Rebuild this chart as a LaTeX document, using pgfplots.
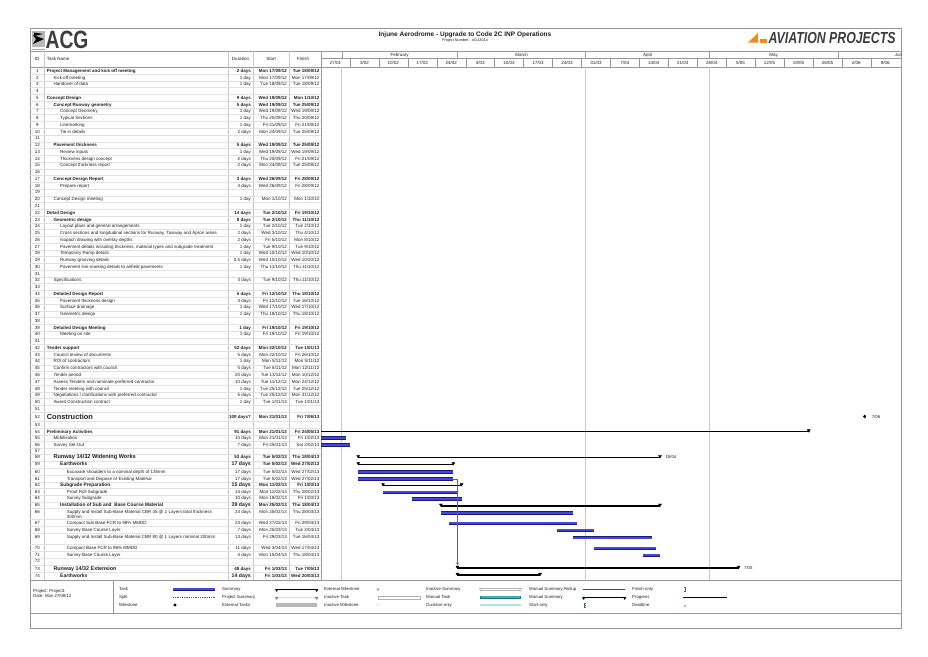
\documentclass[border=0pt]{standalone}
\usepackage{pgfplots}
\pgfplotsset{compat=1.18}
\usepackage{fontspec}
\setmainfont{Liberation Sans}

\definecolor{taskfill}{RGB}{70,70,225}
\definecolor{taskedge}{RGB}{25,25,120}
\definecolor{txt}{RGB}{30,30,30}
\definecolor{framec}{RGB}{150,150,150}
\definecolor{rowline}{RGB}{225,225,225}
\definecolor{colline}{RGB}{200,200,200}
\definecolor{gridv}{RGB}{200,200,212}
\definecolor{linkblue}{RGB}{90,90,200}
\definecolor{apo}{RGB}{242,140,28}
\definecolor{logoc}{RGB}{60,60,60}
\definecolor{tealA}{RGB}{30,120,130}
\definecolor{tealB}{RGB}{60,175,185}

\newcommand\fs{\fontsize{4.5}{5.2}\selectfont}
\def\La{46.7}\def\Lb{53.3}\def\Lc{60}\def\Ld{66.7}
\tikzset{cell/.style={inner sep=0pt, text=txt, font=\fs, yshift=-1.6pt},
  leg/.style={inner sep=0pt, text=txt, font=\fontsize{4.3}{5}\selectfont, yshift=-1.5pt, anchor=base west}}
% table rows: y, id, indent, name, duration, start, finish
\newcommand\R[7]{%
  \node[cell,anchor=base] at (37.5,#1) {#2};
  \node[cell,anchor=base west] at (#3,#1) {#4};
  \node[cell,anchor=base east] at (251,#1) {#5};
  \node[cell,anchor=base east] at (287,#1) {#6};
  \node[cell,anchor=base east] at (319.5,#1) {#7};}
\newcommand\B[7]{%
  \node[cell,anchor=base] at (37.5,#1) {#2};
  \node[cell,anchor=base west,font=\fs\bfseries] at (#3,#1) {#4};
  \node[cell,anchor=base east,font=\fs\bfseries] at (251,#1) {#5};
  \node[cell,anchor=base east,font=\fs\bfseries] at (287,#1) {#6};
  \node[cell,anchor=base east,font=\fs\bfseries] at (319.5,#1) {#7};}
% larger summary rows: y, id, indent, name size, name, duration size, duration, start, finish
\newcommand\X[9]{%
  \node[cell,anchor=base] at (37.5,#1) {#2};
  \node[cell,anchor=base west,font=\fontsize{#4}{#4}\selectfont\bfseries] at (#3,#1) {#5};
  \node[cell,anchor=base east,font=\fontsize{#6}{#6}\selectfont\bfseries] at (251,#1) {#7};
  \node[cell,anchor=base east,font=\fs\bfseries] at (287,#1) {#8};
  \node[cell,anchor=base east,font=\fs\bfseries] at (319.5,#1) {#9};}
\newcommand\E[2]{\node[cell,anchor=base] at (37.5,#1) {#2};}

% gantt bars: start day, end day, row y
\newcommand\task[3]{%
  \addplot[taskedge, line width=3.6pt, forget plot] coordinates {(#1,#3) (#2,#3)};
  \addplot[taskfill, line width=2.2pt, forget plot] coordinates {(#1,#3) (#2,#3)};}
\newcommand\summ[3]{%
  \addplot[black, line width=1.5pt, forget plot] coordinates {(#1,#3) (#2,#3)};
  \addplot[black, only marks, mark=triangle*, mark size=1.7pt,
    mark options={rotate=180, yshift=-1pt}, forget plot] coordinates {(#1,#3) (#2,#3)};}

\begin{document}
\begin{tikzpicture}
\begin{scope}[x=1pt, y=-1pt]
% outer frame and header
\draw[framec, line width=0.5pt] (30,28) rectangle (901,628);
\draw[framec, line width=0.4pt] (30,51) -- (901,51);
\draw[framec, line width=0.4pt] (30,66.7) -- (901,66.7);
\draw[framec, line width=0.4pt] (321,58.5) -- (901,58.5);
\draw[framec, line width=0.4pt] (30,580) -- (901,580);
\draw[framec, line width=0.4pt] (30,613) -- (901,613);
\draw[framec, line width=0.4pt] (113,580) -- (113,613);
% table column lines
\foreach \cx in {44,228,253.5,289.5} \draw[colline, line width=0.3pt] (\cx,51) -- (\cx,580);
\draw[framec, line width=0.4pt] (321,51) -- (321,580);
% row separators
\foreach \ry in {74.08,80.84,87.6,94.36,101.12,107.88,114.64,121.4,128.16,134.92,141.68,148.44,155.2,161.96,168.72,175.48,182.24,189,195.76,202.52,209.28,216.04,222.8,229.56,236.32,243.08,249.84,256.6,263.36,270.12,276.88,283.64,290.4,297.16,303.92,310.68,317.44,324.2,330.96,337.72,344.48,351.24,358,364.76,371.52,378.28,385.04,391.8,398.56,405.32,412.08,421,428,435,441.5,448,454,461,468,475,482,488.5,495,502,508.5,519,526.5,533,544,551.5,558,565,572}
  \draw[rowline, line width=0.3pt] (30,\ry) -- (321,\ry);

% logos and title
\fill[gray!55] (32,31) rectangle (45,47);
\fill[black] (33,35) -- (44,39) -- (33,44) -- (36,39) -- cycle;
\fill[black] (34,32.5) -- (43,34) -- (34,36) -- cycle;
\fill[gray!70] (32,48.5) rectangle (45,50);
\node[inner sep=0pt, anchor=base west, text=logoc] at (45.5,48.3) {\scalebox{0.77}[1]{\fontsize{25}{25}\selectfont\bfseries ACG}};
\fill[apo] (748,42.5) -- (758,33) -- (758,42.5) -- cycle;
\fill[apo] (759.5,39) rectangle (767,42.5);
\node[inner sep=0pt, anchor=base west, text=logoc] at (768.5,43) {\scalebox{0.77}[1]{\fontsize{16}{16}\selectfont\bfseries\itshape AVIATION PROJECTS}};
\node[inner sep=0pt, text=txt] at (465,35) {\fontsize{6.5}{7}\selectfont\bfseries Injune Aerodrome - Upgrade to Code 2C INP Operations};
\node[inner sep=0pt, text=txt] at (465,40.3) {\fontsize{3.8}{4}\selectfont Project Number - AG13014};

% table header
\node[cell,anchor=base] at (37,59) {ID};
\node[cell,anchor=base west] at (46.7,59) {Task Name};
\node[cell,anchor=base] at (240.5,59) {Duration};
\node[cell,anchor=base] at (271,59) {Start};
\node[cell,anchor=base] at (303,59) {Finish};

% timescale: months
\foreach \mx in {341.7,457.4,585.6,709.6,837.8} \draw[framec, line width=0.3pt] (\mx,51) -- (\mx,58.5);
\node[cell,anchor=base] at (399.5,54.8) {February};
\node[cell,anchor=base] at (521.5,54.8) {March};
\node[cell,anchor=base] at (647.6,54.8) {April};
\node[cell,anchor=base] at (773.7,54.8) {May};
\begin{scope}
\clip (837.8,51) rectangle (901,66.7);
\node[cell,anchor=base] at (899.8,54.8) {June};
\end{scope}
% timescale: weeks
\foreach [count=\k from 0] \wl in {{27/01},{3/02},{10/02},{17/02},{24/02},{3/03},{10/03},{17/03},{24/03},{31/03},{7/04},{14/04},{21/04},{28/04},{5/05},{12/05},{19/05},{26/05},{2/06},{9/06}} {
  \pgfmathsetmacro\wx{321+28.938*\k}
  \draw[framec, line width=0.3pt] (\wx,58.5) -- (\wx,66.7);
  \node[cell,anchor=base] at (\wx+14.47,62.6) {\wl};
}

% table rows
\B{70.7}{1}{\La}{Project Management and kick off meeting}{2 days}{Mon 17/09/12}{Tue 18/09/12}
\R{77.46}{2}{\Lb}{Kick off meeting}{1 day}{Mon 17/09/12}{Mon 17/09/12}
\R{84.22}{3}{\Lb}{Handover of data}{1 day}{Tue 18/09/12}{Tue 18/09/12}
\E{90.98}{4}
\B{97.74}{5}{\La}{Concept Design}{9 days}{Wed 19/09/12}{Mon 1/10/12}
\B{104.5}{6}{\Lb}{Concept Runway geometry}{5 days}{Wed 19/09/12}{Tue 25/09/12}
\R{111.26}{7}{\Lc}{Concept Geometry}{1 day}{Wed 19/09/12}{Wed 19/09/12}
\R{118.02}{8}{\Lc}{Typical Sections}{1 day}{Thu 20/09/12}{Thu 20/09/12}
\R{124.78}{9}{\Lc}{Linemarking}{1 day}{Fri 21/09/12}{Fri 21/09/12}
\R{131.54}{10}{\Lc}{Tie in details}{2 days}{Mon 24/09/12}{Tue 25/09/12}
\E{138.3}{11}
\B{145.06}{12}{\Lb}{Pavement thickness}{5 days}{Wed 19/09/12}{Tue 25/09/12}
\R{151.82}{13}{\Lc}{Review inputs}{1 day}{Wed 19/09/12}{Wed 19/09/12}
\R{158.58}{14}{\Lc}{Thickness design concept}{2 days}{Thu 20/09/12}{Fri 21/09/12}
\R{165.34}{15}{\Lc}{Concept thickness report}{2 days}{Mon 24/09/12}{Tue 25/09/12}
\E{172.1}{16}
\B{178.86}{17}{\Lb}{Concept Design Report}{3 days}{Wed 26/09/12}{Fri 28/09/12}
\R{185.62}{18}{\Lc}{Prepare report}{3 days}{Wed 26/09/12}{Fri 28/09/12}
\E{192.38}{19}
\R{199.14}{20}{\Lb}{Concept Design meeting}{1 day}{Mon 1/10/12}{Mon 1/10/12}
\E{205.9}{21}
\B{212.66}{22}{\La}{Detail Design}{14 days}{Tue 2/10/12}{Fri 19/10/12}
\B{219.42}{23}{\Lb}{Geometric design}{8 days}{Tue 2/10/12}{Thu 11/10/12}
\R{226.18}{24}{\Lc}{Layout plans and general arrangements}{1 day}{Tue 2/10/12}{Tue 2/10/12}
\R{232.94}{25}{\Lc}{Cross sections and longitudinal sections for Runway, Taxiway and Apron areas}{2 days}{Wed 3/10/12}{Thu 4/10/12}
\R{239.7}{26}{\Lc}{Isopach drawing with overlay depths}{2 days}{Fri 5/10/12}{Mon 8/10/12}
\R{246.46}{27}{\Lc}{Pavement details including thickness, material types and subgrade treatment}{1 day}{Tue 9/10/12}{Tue 9/10/12}
\R{253.22}{28}{\Lc}{Temporary Ramp details}{1 day}{Wed 10/10/12}{Wed 10/10/12}
\R{259.98}{29}{\Lc}{Runway grooving details}{0.5 days}{Wed 10/10/12}{Wed 10/10/12}
\R{266.74}{30}{\Lc}{Pavement line marking details to airfield pavements}{1 day}{Thu 11/10/12}{Thu 11/10/12}
\E{273.5}{31}
\R{280.26}{32}{\Lb}{Specifications}{3 days}{Tue 9/10/12}{Thu 11/10/12}
\E{287.02}{33}
\B{293.78}{34}{\Lb}{Detailed Design Report}{5 days}{Fri 12/10/12}{Thu 18/10/12}
\R{300.54}{35}{\Lc}{Pavement thickness design}{3 days}{Fri 12/10/12}{Tue 16/10/12}
\R{307.3}{36}{\Lc}{Surface drainage}{1 day}{Wed 17/10/12}{Wed 17/10/12}
\R{314.06}{37}{\Lc}{Geometric design}{1 day}{Thu 18/10/12}{Thu 18/10/12}
\E{320.82}{38}
\B{327.58}{39}{\Lb}{Detailed Design Meeting}{1 day}{Fri 19/10/12}{Fri 19/10/12}
\R{334.34}{40}{\Lc}{Meeting on site}{1 day}{Fri 19/10/12}{Fri 19/10/12}
\E{341.1}{41}
\B{347.86}{42}{\La}{Tender support}{52 days}{Mon 22/10/12}{Tue 1/01/13}
\R{354.62}{43}{\Lb}{Council review of documents}{5 days}{Mon 22/10/12}{Fri 26/10/12}
\R{361.38}{44}{\Lb}{ROI of contractors}{1 day}{Mon 5/11/12}{Mon 5/11/12}
\R{368.14}{45}{\Lb}{Confirm contractors with council}{5 days}{Tue 6/11/12}{Mon 12/11/12}
\R{374.9}{46}{\Lb}{Tender period}{20 days}{Tue 13/11/12}{Mon 10/12/12}
\R{381.66}{47}{\Lb}{Assess Tenders and nominate preferred contractor}{10 days}{Tue 11/12/12}{Mon 24/12/12}
\R{388.42}{48}{\Lb}{Tender meeting with council}{1 day}{Tue 25/12/12}{Tue 25/12/12}
\R{395.18}{49}{\Lb}{Negotiations / clarifications with preferred contractor}{5 days}{Tue 25/12/12}{Mon 31/12/12}
\R{401.94}{50}{\Lb}{Award Construction contract}{1 day}{Tue 1/01/13}{Tue 1/01/13}
\E{408.7}{51}
\node[cell,anchor=base] at (37.5,416.5) {52};
\node[cell,anchor=base west,font=\fontsize{7.4}{8}\selectfont\bfseries,yshift=-1.1pt] at (\La,416.5) {Construction};
\node[cell,anchor=base east,font=\fs\bfseries] at (251,416.5) {100 days?};
\node[cell,anchor=base east,font=\fs\bfseries] at (287,416.5) {Mon 21/01/13};
\node[cell,anchor=base east,font=\fs\bfseries] at (319.5,416.5) {Fri 7/06/13};
\E{424.5}{53}
\B{431.5}{54}{\La}{Preliminary Activities}{91 days}{Mon 21/01/13}{Fri 24/05/13}
\R{438}{55}{\Lb}{Mobilisation}{10 days}{Mon 21/01/13}{Fri 1/02/13}
\R{444.8}{56}{\Lb}{Survey Set Out}{7 days}{Fri 25/01/13}{Sat 2/02/13}
\E{451}{57}
\X{457}{58}{\Lb}{5.6}{Runway 14/32 Widening Works}{4.5}{53 days}{Tue 5/02/13}{Thu 18/04/13}
\X{464.3}{59}{\Lc}{5}{Earthworks}{5.2}{17 days}{Tue 5/02/13}{Wed 27/02/13}
\R{471.8}{60}{\Ld}{Excavate shoulders to a nominal depth of 135mm}{17 days}{Tue 5/02/13}{Wed 27/02/13}
\R{478.5}{61}{\Ld}{Transport and Dispose of Existing Material}{17 days}{Tue 5/02/13}{Wed 27/02/13}
\X{485}{62}{\Lc}{4.8}{Subgrade Preparation}{5.2}{15 days}{Mon 11/02/13}{Fri 1/03/13}
\R{491.5}{63}{\Ld}{Proof Roll Subgrade}{14 days}{Mon 11/02/13}{Thu 28/02/13}
\R{498.2}{64}{\Ld}{Survey Subgrade}{10 days}{Mon 18/02/13}{Fri 1/03/13}
\X{505}{65}{\Lc}{4.8}{Installation of Sub and\ \ Base Course Material}{5.2}{39 days}{Mon 25/02/13}{Thu 18/04/13}
\R{511.8}{66}{\Ld}{Supply and Install Sub-Base Material CBR 45 @ 2 Layers total thickness}{24 days}{Mon 25/02/13}{Thu 28/03/13}
\node[cell,anchor=base west] at (\Ld,516.6) {300mm};
\R{522.5}{67}{\Ld}{Compact Sub Base FCR to 98\% MMDD}{23 days}{Wed 27/02/13}{Fri 29/03/13}
\R{529.5}{68}{\Ld}{Survey Base Course Layer}{7 days}{Mon 25/03/13}{Tue 2/04/13}
\R{536.5}{69}{\Ld}{Supply and Install Sub-Base Material CBR 80 @ 1 Layers nominal 200mm}{13 days}{Fri 29/03/13}{Tue 16/04/13}
\R{547.5}{70}{\Ld}{Compact Base FCR to 98\% MMDD}{11 days}{Wed 3/04/13}{Wed 17/04/13}
\R{554.5}{71}{\Ld}{Survey Base Course Layer}{4 days}{Mon 15/04/13}{Thu 18/04/13}
\E{560.5}{72}
\X{568.5}{73}{\Lb}{5.4}{Runway 14/32 Extension}{4.5}{48 days}{Fri 1/03/13}{Tue 7/05/13}
\X{575.5}{74}{\Lc}{5}{Earthworks}{5.2}{14 days}{Fri 1/03/13}{Wed 20/03/13}

% footer / legend
\node[leg] at (33,591) {Project: Project1};
\node[leg] at (33,596.3) {Date: Mon 27/08/12};
\node[leg] at (119,589.3) {Task};
\node[leg] at (119,597.3) {Split};
\node[leg] at (119,605) {Milestone};
\fill[taskedge] (173,587.5) rectangle (215,591.1);
\fill[taskfill] (173,588.2) rectangle (215,590.4);
\draw[taskfill, line width=0.8pt, dash pattern=on 0.8pt off 1pt] (173,597.3) -- (215,597.3);
\fill[black] (175,603.3) -- (176.7,605) -- (175,606.7) -- (173.3,605) -- cycle;
\node[leg] at (222,589.3) {Summary};
\node[leg] at (222,597.3) {Project Summary};
\node[leg] at (222,605) {External Tasks};
\draw[black, line width=1.4pt] (276,589.3) -- (317,589.3);
\fill[black] (275,589) -- (278.4,589) -- (276.7,592) -- cycle;
\fill[black] (315,589) -- (318.4,589) -- (316.7,592) -- cycle;
\draw[gray, line width=1.4pt] (276,597.3) -- (317,597.3);
\draw[gray!30, line width=0.6pt] (278,597.3) -- (315,597.3);
\fill[gray] (275,597) -- (278.4,597) -- (276.7,600) -- cycle;
\fill[gray] (315,597) -- (318.4,597) -- (316.7,600) -- cycle;
\fill[gray!55] (276,603.4) rectangle (317,606.6);
\node[leg] at (324,589.3) {External Milestone};
\node[leg] at (324,597.3) {Inactive Task};
\node[leg] at (324,605) {Inactive Milestone};
\fill[gray!70] (378,587.8) -- (379.5,589.3) -- (378,590.8) -- (376.5,589.3) -- cycle;
\draw[gray!60, line width=0.3pt, fill=white] (378,595.9) rectangle (420,598.7);
\draw[gray!40, line width=0.3pt] (378,603.5) -- (379.5,605) -- (378,606.5) -- (376.5,605) -- cycle;
\node[leg] at (426,589.3) {Inactive Summary};
\node[leg] at (426,597.3) {Manual Task};
\node[leg] at (426,605) {Duration-only};
\draw[gray!60, line width=0.3pt] (480,588.3) -- (521,588.3) (480,590.2) -- (521,590.2);
\draw[gray!60, line width=0.3pt] (479.3,588.3) -- (482.3,588.3) -- (480.8,591.3) -- cycle;
\draw[gray!60, line width=0.3pt] (518.7,588.3) -- (521.7,588.3) -- (520.2,591.3) -- cycle;
\fill[tealA] (480,595.6) rectangle (521,599);
\fill[tealB] (481,596.3) rectangle (520,598.3);
\fill[tealB!40] (480,604) rectangle (521,606);
\node[leg] at (529,589.3) {Manual Summary Rollup};
\node[leg] at (529,597.3) {Manual Summary};
\node[leg] at (529,605) {Start-only};
\draw[tealA!60!blue, line width=0.9pt] (583,589.6) -- (625,589.6);
\draw[black, line width=1.4pt] (583,597.3) -- (625,597.3);
\fill[black] (582,597) -- (585.4,597) -- (583.7,600) -- cycle;
\fill[black] (623,597) -- (626.4,597) -- (624.7,600) -- cycle;
\draw[tealA, line width=0.4pt] (586,603) -- (584,603) -- (584,607) -- (586,607) (584,605) -- (585.5,605);
\node[leg] at (632,589.3) {Finish-only};
\node[leg] at (632,597.3) {Progress};
\node[leg] at (632,605) {Deadline};
\draw[tealA, line width=0.4pt] (683.5,587.3) -- (685.5,587.3) -- (685.5,591.3) -- (683.5,591.3);
\draw[black, line width=1pt] (683,597.3) -- (727,597.3);
\draw[green!50!gray, line width=0.4pt] (685,603) -- (685,606.5) (683.8,605.5) -- (685,606.7) -- (686.2,605.5);
\end{scope}

% gantt chart: x = days from Sun 27/01/13, y = row position
\begin{axis}[at={(321pt,-66.7pt)}, anchor=north west, scale only axis,
  width=580pt, height=513.3pt, xmin=0, xmax=140.3, ymin=66.7, ymax=580,
  y dir=reverse, hide axis]
\draw[gridv, line width=0.4pt] (axis cs:5,66.7) -- (axis cs:5,580);
\draw[gridv, line width=0.4pt] (axis cs:64,66.7) -- (axis cs:64,580);
\draw[gridv, line width=0.4pt] (axis cs:94,66.7) -- (axis cs:94,580);
% construction finish marker
\addplot[black, only marks, mark=diamond*, mark size=1.6pt, forget plot] coordinates {(131.5,416.5)};
\node[anchor=west, inner sep=0pt, font=\fontsize{4.3}{5}\selectfont, text=txt] at (axis cs:133.2,416.5) {7/06};
% preliminary activities (starts before the visible range)
\addplot[black, line width=1.5pt, forget plot] coordinates {(-6,431.5) (118,431.5)};
\addplot[black, only marks, mark=triangle*, mark size=1.7pt, mark options={rotate=180, yshift=-1pt}, forget plot] coordinates {(118,431.5)};
\task{-6}{6}{438}
\task{-2}{7}{445}
\summ{9}{82}{457.3}
\node[anchor=west, inner sep=0pt, font=\fontsize{4.3}{5}\selectfont, text=txt] at (axis cs:83.3,457.3) {18/04};
\summ{9}{32}{464.3}
\task{9}{32}{472}
\task{9}{32}{479}
\summ{15}{34}{485.3}
\task{15}{33}{492.3}
\task{22}{34}{499.2}
\summ{29}{82}{505.8}
\task{29}{61}{512.7}
\task{31}{62}{523.3}
\task{57}{66}{530.3}
\task{61}{80}{537.6}
\task{66}{81}{548.3}
\task{78}{82}{555.3}
\addplot[linkblue, line width=0.4pt, -stealth, forget plot] coordinates {(32,479) (33,479) (33,565.5)};
\summ{33}{101}{568}
\node[anchor=west, inner sep=0pt, font=\fontsize{4.3}{5}\selectfont, text=txt] at (axis cs:102.3,568) {7/05};
\summ{33}{53}{575}
\end{axis}
\pgfresetboundingbox
\useasboundingbox (0pt,0pt) rectangle (928pt,-656pt);
\end{tikzpicture}
\end{document}
